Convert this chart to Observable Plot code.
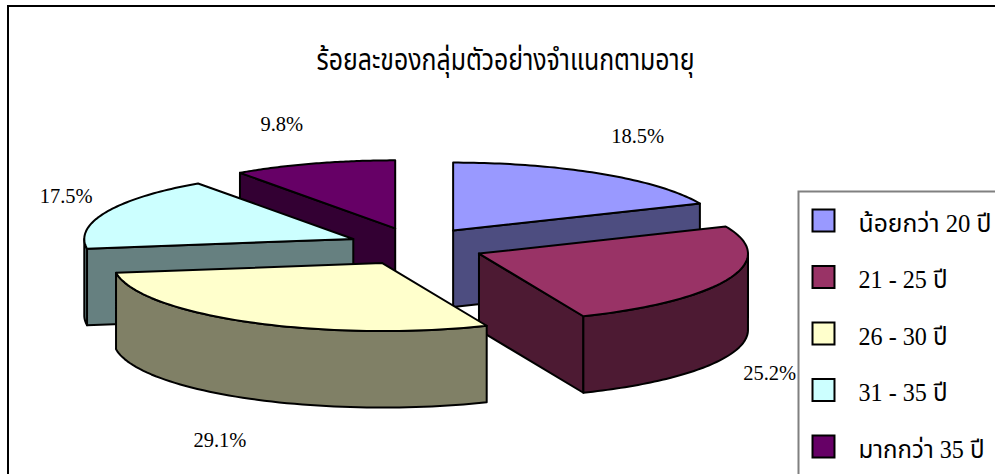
<!DOCTYPE html>
<html>
<head>
<meta charset="utf-8">
<style>
  html, body { margin: 0; padding: 0; background: #fff; }
  svg { display: block; }
</style>
<script src="https://cdn.jsdelivr.net/npm/d3@7"></script>
<script src="https://cdn.jsdelivr.net/npm/@observablehq/plot@0.6"></script>
</head>
<body>
<div id="chart"></div>
<script>
// Share of the sample by age group
const chartTitle = "ร้อยละของกลุ่มตัวอย่างจำแนกตามอายุ";
const categories = ["น้อยกว่า 20 ปี", "21 - 25 ปี", "26 - 30 ปี", "31 - 35 ปี", "มากกว่า 35 ปี"];
const percents = [18.5, 25.2, 29.1, 17.5, 9.8];
const topColors = ["#9999ff", "#993366", "#ffffcc", "#ccffff", "#660066"];
const sideColors = ["#4d4d80", "#4d1a33", "#808066", "#668080", "#330033"];

const width = 995, height = 474;
const font = "'Liberation Serif', 'Noto Sans Thai', 'Noto Serif Thai', 'DejaVu Serif', serif";

// Pie projection, in pixels per unit of radius along each axis
const radiusX = 269, radiusY = 68, centerX = 415.3, centerY = 246;
const explodeX = 0.253, explodeY = 0.28, depth = 1.125;

// Painter's order: back slices first
const drawOrder = [0, 4, 3, 1, 2];

// Label nudges away from each slice's rim, in pixels
const labelShift = [[37, -37], [41, 18], [-30, 42], [-40, -16], [-32, -39]];

// Thai glyphs come out wide, so each string is fitted to a set length in pixels
const titleLength = 378;
const legendLengths = [133, 89, 89, 89, 126];
const fitted = (length) => (index, scales, values, dims, context, next) => {
  const g = next(index, scales, values, dims, context);
  d3.select(g).selectAll("text").attr("textLength", length).attr("lengthAdjust", "spacingAndGlyphs");
  return g;
};

const total = d3.sum(percents);
const cumulative = d3.cumsum(percents);
const slices = percents.map((p, i) => {
  const a0 = ((cumulative[i] - p) / total) * 2 * Math.PI;
  const a1 = (cumulative[i] / total) * 2 * Math.PI;
  const mid = (a0 + a1) / 2;
  return {i, p, a0, a1, mid, ox: explodeX * Math.sin(mid), oy: explodeY * Math.cos(mid)};
});

const rimPoint = (s, a, drop = 0) => ({x: s.ox + Math.sin(a), y: s.oy + Math.cos(a) - drop});
const apexPoint = (s, drop = 0) => ({x: s.ox, y: s.oy - drop});
const arcAngles = (a0, a1) => d3.range(0, 61).map((k) => a0 + ((a1 - a0) * k) / 60);

// Every polygon of a slice: visible walls, then the top face
const faces = [];
const addFace = (id, color, points) => {
  for (const pt of [...points, points[0]]) faces.push({...pt, id, color});
};
for (const i of drawOrder) {
  const s = slices[i];
  const wall = (a) => [apexPoint(s), rimPoint(s, a), rimPoint(s, a, depth), apexPoint(s, depth)];
  if (Math.sin(s.a0) < 0) addFace(`${i}-start`, sideColors[i], wall(s.a0));
  if (Math.sin(s.a1) > 0) addFace(`${i}-end`, sideColors[i], wall(s.a1));
  const from = Math.max(s.a0, Math.PI / 2), to = Math.min(s.a1, (3 * Math.PI) / 2);
  if (to > from) {
    const arc = arcAngles(from, to);
    addFace(`${i}-rim`, sideColors[i], [
      ...arc.map((a) => rimPoint(s, a)),
      ...arc.reverse().map((a) => rimPoint(s, a, depth))
    ]);
  }
  addFace(`${i}-top`, topColors[i], [apexPoint(s), ...arcAngles(s.a0, s.a1).map((a) => rimPoint(s, a))]);
}

// A label sits by the rim at the slice's mid angle, on the lower edge if the rim shows there
const labels = slices.map((s) => {
  const front = Math.cos(s.mid) < 0;
  return {...rimPoint(s, s.mid, front ? depth : 0), text: `${s.p.toFixed(1)}%`, i: s.i};
});

const chart = Plot.plot({
  width, height,
  margin: 0,
  x: {domain: [-centerX / radiusX, (width - centerX) / radiusX], range: [0, width], axis: null},
  y: {domain: [(centerY - height) / radiusY, centerY / radiusY], range: [height, 0], axis: null},
  color: {type: "identity"},
  style: {fontFamily: font, background: "#fff"},
  marks: [
    // Chart area border; it runs off the right and bottom of the page
    Plot.frame({stroke: "#000", strokeWidth: 2, insetLeft: 7.5, insetTop: 5.5, insetRight: -6, insetBottom: -6}),
    Plot.text([chartTitle], {
      frameAnchor: "top-left", dx: 505, dy: 60, text: (d) => d,
      fontSize: 30, fill: "#000", textAnchor: "middle", lineAnchor: "middle",
      render: fitted(titleLength)
    }),
    Plot.line(faces, {
      x: "x", y: "y", z: "id", fill: "color",
      stroke: "#000", strokeWidth: 2, strokeLinejoin: "round", curve: "linear"
    }),
    ...labels.map((l) =>
      Plot.text([l], {
        x: "x", y: "y", text: "text",
        dx: labelShift[l.i][0], dy: labelShift[l.i][1],
        fontSize: 20.5, fill: "#000", lineAnchor: "middle"
      })
    ),
    // Legend box and its entries
    Plot.frame({stroke: "#808080", strokeWidth: 2, fill: "#fff", insetLeft: 798, insetTop: 191, insetRight: -6, insetBottom: -6}),
    ...categories.flatMap((c, i) => [
      Plot.dot([c], {
        frameAnchor: "top-left", dx: 823, dy: 220 + i * 56.5,
        symbol: "square", r: 12.4, fill: topColors[i], stroke: "#000", strokeWidth: 2
      }),
      Plot.text([c], {
        frameAnchor: "top-left", dx: 858, dy: 223 + i * 56.5, text: (d) => d,
        fontSize: 25, fill: "#000", textAnchor: "start", lineAnchor: "middle",
        render: fitted(legendLengths[i])
      })
    ])
  ]
});
document.getElementById("chart").append(chart);
</script>
</body>
</html>
